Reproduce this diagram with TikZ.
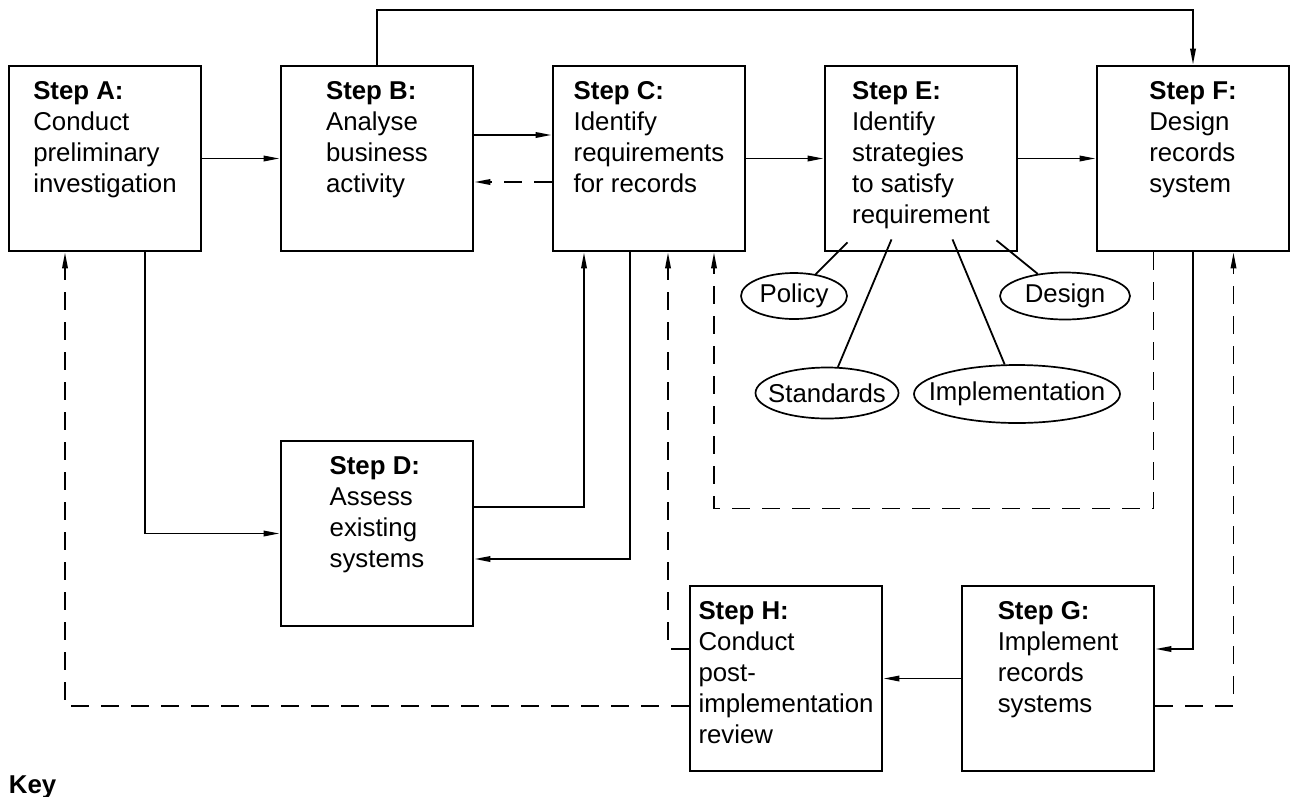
\documentclass[tikz,border=0pt]{standalone}
\usepackage{fontspec}
\setmainfont{Liberation Sans}
\usetikzlibrary{arrows.meta,positioning,shapes.geometric}

\begin{document}
\begin{tikzpicture}[x=1pt,y=-1pt,->,>={Triangle[length=16pt,width=5.5pt]},
                    line width=1.8pt,node distance=272pt,on grid,
                    font=\fontsize{25.8pt}{31pt}\selectfont]
    \tikzset{
      stepbox/.style={
        draw,
        line width=2.8pt,
        minimum width=192pt,
        minimum height=185pt,
        inner sep=0pt
      },
      steplabel/.style={
        anchor=north,
        align=left,
        inner sep=0pt,
        yshift=-16pt
      },
      feedback/.style={
        dash pattern=on 18pt off 12pt
      },
      strategy/.style={
        ellipse,
        draw,
        line width=1.7pt,
        inner sep=0pt
      }
    }
    \useasboundingbox (0,0) rectangle (1290,796);

    % Steps
    \node [stepbox, label={[steplabel]north:{\textbf{Step A:}\\Conduct\\preliminary\\investigation}}] (stepA) at (105,158.5) {};
    \node [stepbox, label={[steplabel]north:{\textbf{Step B:}\\Analyse\\business\\activity}}] (stepB) [right=of stepA] {};
    \node [stepbox, label={[steplabel]north:{\textbf{Step C:}\\Identify\\requirements\\for records}}] (stepC) [right=of stepB] {};
    \node [stepbox, label={[steplabel]north:{\textbf{Step E:}\\Identify\\strategies\\to satisfy\\requirement}}] (stepE) [right=of stepC] {};
    \node [stepbox, label={[steplabel]north:{\textbf{Step F:}\\Design\\records\\system}}] (stepF) [right=of stepE] {};
    \node [stepbox, label={[steplabel]north:{\textbf{Step D:}\\Assess\\existing\\systems}}] (stepD) [below=375pt of stepB] {};
    \node [stepbox, label={[steplabel]north:{\textbf{Step H:}\\Conduct\\post-\\implementation\\review}}] (stepH) at (786,678.5) {};
    \node [stepbox, label={[steplabel]north:{\textbf{Step G:}\\Implement\\records\\systems}}] (stepG) [right=of stepH] {};

    % Strategies
    \node [strategy, minimum width=106pt, minimum height=46pt, label=center:Policy] (policy) at (794,296) {};
    \node [strategy, minimum width=130pt, minimum height=47pt, label=center:Design] (design) at (1065,296) {};
    \node [strategy, minimum width=143pt, minimum height=51pt, label=center:Standards] (standards) at (827,393) {};
    \node [strategy, minimum width=206pt, minimum height=58pt, label=center:Implementation] (implementation) at (1017,394) {};

    \node [font=\bfseries\fontsize{25.8pt}{31pt}\selectfont, anchor=base west, inner sep=0pt] (key) at (8,793) {Key};

    % Forward transitions
    \draw (stepA) -- (stepB);
    \draw ([yshift=23.5pt]stepB.east) -- ([yshift=23.5pt]stepC.west);
    \draw (stepC) -- (stepE);
    \draw (stepE) -- (stepF);
    \draw (stepB.north) -- ++(0,-55) -| (stepF.north);
    \draw ([xshift=40pt]stepA.south) |- (stepD.west);
    \draw ([yshift=26.5pt]stepD.east) -| ([xshift=-65pt]stepC.south);
    \draw ([xshift=-19pt]stepC.south) |- ([yshift=-25.5pt]stepD.east);
    \draw (stepF.south) |- ([yshift=29.5pt]stepG.east);
    \draw (stepG) -- (stepH);

    % Feedback transitions
    \draw [feedback] ([yshift=-23.5pt]stepC.west) -- ([yshift=-23.5pt]stepB.east);
    \draw [feedback] ([xshift=-39.5pt]stepF.south) -- ++(0,256) -| ([xshift=65pt]stepC.south);
    \draw [feedback] ([yshift=29.5pt]stepH.west) -| ([xshift=19pt]stepC.south);
    \draw [feedback] ([yshift=-27.5pt]stepH.west) -| ([xshift=-40pt]stepA.south);
    \draw [feedback] ([yshift=-27.5pt]stepG.east) -| ([xshift=40.5pt]stepF.south);

    % Strategy links
    \draw [-] ([shift={(-73.5,-10)}]stepE.south) -- (policy);
    \draw [-] ([shift={(-29.5,-13)}]stepE.south) -- (standards);
    \draw [-] ([shift={(31.5,-13)}]stepE.south) -- (implementation);
    \draw [-] ([shift={(75.5,-12)}]stepE.south) -- (design);
\end{tikzpicture}
\end{document}
